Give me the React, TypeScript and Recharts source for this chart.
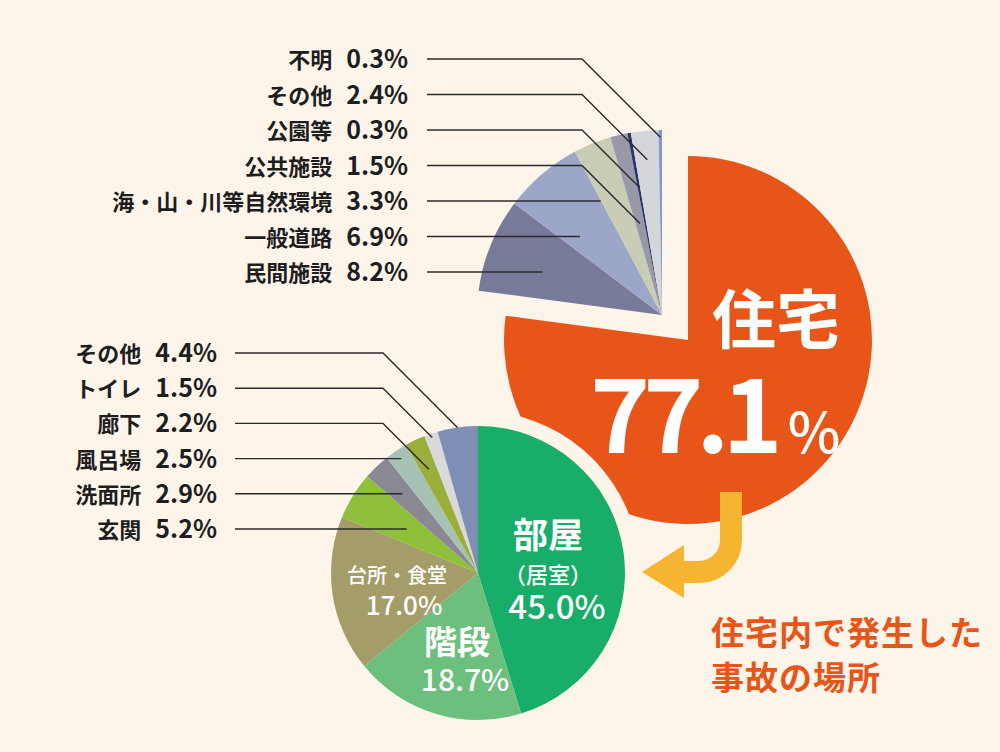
import React from 'react'
import { PieChart, Pie, Cell } from 'recharts'

const BG = '#fdf5ea'
const ORANGE = '#e85518'
const FONT = '"Noto Sans CJK JP", "Noto Sans", sans-serif'
const RAD = Math.PI / 180

// 事故の発生場所（全体）
const placeNames = ['住宅', '民間施設', '一般道路', '海・山・川等自然環境', '公共施設', '公園等', 'その他', '不明']
const placeShares = [77.1, 8.2, 6.9, 3.3, 1.5, 0.3, 2.4, 0.3]
const placeColors = [ORANGE, '#787a99', '#9ca6c9', '#c9cdb5', '#9898a8', '#28346b', '#d5d6da', '#7b9bd6']

// 住宅内の内訳
const roomNames = ['部屋', '階段', '台所・食堂', '玄関', '洗面所', '風呂場', '廊下', 'トイレ', 'その他']
const roomShares = [45.0, 18.7, 17.0, 5.2, 2.9, 2.5, 2.2, 1.5, 4.4]
const roomColors = ['#18ae69', '#6dbf7e', '#a49d69', '#8fc03a', '#8a8893', '#a7c1b4', '#9aae3a', '#d9d9d9', '#7f8eb4']

const placeData = placeNames.map((name, i) => ({ name, value: placeShares[i] }))
const roomData = roomNames.map((name, i) => ({ name, value: roomShares[i] }))

const pct = (v: number) => `${v.toFixed(1)}%`

interface LeaderCfg {
  first: number
  last: number
  rowTop: number
  rowGap: number
  textRight: number
  lineStart: number
  elbowX: number
  bentRows: number
  inset: number
}

// left-side labels with a horizontal line, bent 45° into the thin slices
function leaderLabel(cfg: LeaderCfg) {
  return (p: any) => {
    const { cx, cy, midAngle, index } = p
    if (index < cfg.first) return <g />
    const row = cfg.last - index
    const y = cfg.rowTop + row * cfg.rowGap
    const c = Math.cos(midAngle * RAD)
    const s = Math.sin(midAngle * RAD)
    let pts: number[][]
    if (row < cfg.bentRows) {
      const t = (cfg.elbowX - y - cx + cy) / (c + s)
      pts = [[cfg.lineStart, y], [cfg.elbowX, y], [cx + t * c, cy - t * s]]
    } else {
      const t = (cy - y) / s
      pts = [[cfg.lineStart, y], [cx + t * c - cfg.inset, y]]
    }
    return (
      <g>
        <polyline points={pts.map(q => q.join(',')).join(' ')} fill="none" stroke="#2b2b2b" strokeWidth={1.4} />
        <text x={cfg.textRight} y={y + 9} textAnchor="end" fontFamily={FONT} fontWeight={700} fill="#1e1e1e">
          <tspan fontSize={22}>{p.payload.name}</tspan>
          <tspan fontSize={25} dx={14}>{pct(p.payload.value)}</tspan>
        </text>
      </g>
    )
  }
}

const placeLabel = leaderLabel({
  first: 1, last: 7, rowTop: 59, rowGap: 35.5, textRight: 408, lineStart: 427, elbowX: 582, bentRows: 4, inset: 15,
})

const roomLeader = leaderLabel({
  first: 3, last: 8, rowTop: 353, rowGap: 35.2, textRight: 217, lineStart: 235, elbowX: 383, bentRows: 3, inset: 0,
})

function homeLabel(p: any) {
  if (p.index !== 0) return <g />
  const { cx, cy } = p
  return (
    <g fontFamily={FONT} fill="#fff">
      <text x={cx + 88} y={cy + 3} textAnchor="middle" fontSize={64} fontWeight={700}>{p.payload.name}</text>
      <text x={cx - 98} y={cy + 113}>
        <tspan fontSize={102} fontWeight={700} style={{ letterSpacing: -7 }}>{p.payload.value.toFixed(1)}</tspan>
        <tspan fontSize={56} fontWeight={500} dx={12}>%</tspan>
      </text>
    </g>
  )
}

function roomLabel(p: any) {
  const { cx, cy, index } = p
  const v = pct(p.payload.value)
  const common = { fontFamily: FONT, fill: '#fff', textAnchor: 'middle' as const }
  if (index === 0) {
    return (
      <g {...common}>
        <text x={cx + 70} y={cy - 25} fontSize={35} fontWeight={700}>{p.payload.name}</text>
        <text x={cx + 70} y={cy + 10} fontSize={22} fontWeight={500}>（居室）</text>
        <text x={cx + 79} y={cy + 46} fontSize={33} fontWeight={500}>{v}</text>
      </g>
    )
  }
  if (index === 1) {
    return (
      <g {...common}>
        <text x={cx - 21} y={cy + 81} fontSize={33} fontWeight={700}>{p.payload.name}</text>
        <text x={cx - 13} y={cy + 118} fontSize={30} fontWeight={500}>{v}</text>
      </g>
    )
  }
  if (index === 2) {
    return (
      <g {...common}>
        <text x={cx - 81} y={cy + 10} fontSize={20} fontWeight={500}>{p.payload.name}</text>
        <text x={cx - 74} y={cy + 42} fontSize={26} fontWeight={500}>{v}</text>
      </g>
    )
  }
  return roomLeader(p)
}

export default function App() {
  return (
    <div style={{ position: 'absolute', left: 0, top: 0, width: 1000, height: 752, background: BG, overflow: 'hidden' }}>
      <PieChart width={1000} height={752} margin={{ top: 0, right: 0, bottom: 0, left: 0 }}>
        <Pie
          data={placeData} dataKey="value" nameKey="name"
          cx={688} cy={340} outerRadius={184} startAngle={90} endAngle={-270}
          stroke="none" isAnimationActive={false} label={homeLabel} labelLine={false}
        >
          {placeData.map((d, i) => <Cell key={d.name} fill={i === 0 ? placeColors[i] : 'transparent'} />)}
        </Pie>
        <Pie
          data={placeData} dataKey="value" nameKey="name"
          cx={662} cy={315} outerRadius={185} startAngle={90} endAngle={-270}
          stroke="none" isAnimationActive={false} label={placeLabel} labelLine={false}
        >
          {placeData.map((d, i) => <Cell key={d.name} fill={i === 0 ? 'transparent' : placeColors[i]} />)}
        </Pie>
        <Pie
          data={roomData} dataKey="value" nameKey="name"
          cx={478} cy={573} outerRadius={162} startAngle={90} endAngle={-270}
          stroke="none" fill={BG} isAnimationActive={false}
        />
        <Pie
          data={roomData} dataKey="value" nameKey="name"
          cx={478} cy={573} outerRadius={147} startAngle={90} endAngle={-270}
          stroke="none" isAnimationActive={false} label={roomLabel} labelLine={false}
        >
          {roomData.map((d, i) => <Cell key={d.name} fill={roomColors[i]} />)}
        </Pie>
      </PieChart>
      <svg width={1000} height={752} style={{ position: 'absolute', left: 0, top: 0, pointerEvents: 'none' }}>
        <path d="M731 492 V540 A32 32 0 0 1 699 572 H682" fill="none" stroke="#f6b531" strokeWidth={22} />
        <path d="M684 545 L642 572 L684 598 Z" fill="#f6b531" />
        <g fontFamily={FONT} fontWeight={700} fill={ORANGE} fontSize={33} style={{ letterSpacing: 1 }}>
          <text x={711} y={645}>住宅内で発生した</text>
          <text x={711} y={690}>事故の場所</text>
        </g>
      </svg>
    </div>
  )
}
